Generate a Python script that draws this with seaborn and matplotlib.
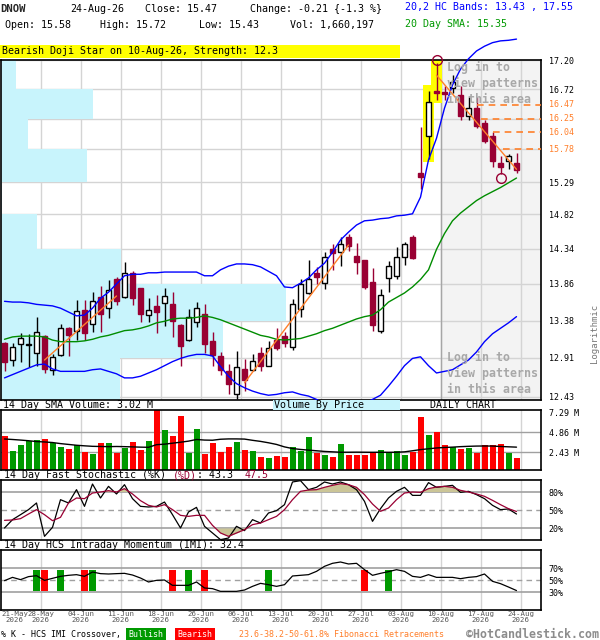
import matplotlib
matplotlib.use('Agg')
import matplotlib.pyplot as plt
from matplotlib.patches import Rectangle
from matplotlib.ticker import NullLocator
import numpy as np
import pandas as pd
import seaborn as sns

sns.set_style('white')
plt.rcParams['font.family'] = ['DejaVu Sans Mono']

# ---- data ----
ticker = 'DNOW'
last_date = '24-Aug-26'
week_labels = ['21-May', '28-May', '04-Jun', '11-Jun', '18-Jun', '26-Jun', '06-Jul',
               '13-Jul', '20-Jul', '27-Jul', '03-Aug', '10-Aug', '17-Aug', '24-Aug']

opens = [13.09, 12.88, 13.08, 13.07, 12.97, 13.18, 12.76, 12.94, 13.28, 13.25,
         13.51, 13.33, 13.69, 13.54, 13.93, 13.69, 14.01, 13.80, 13.45, 13.57,
         13.61, 13.59, 13.32, 13.13, 13.36, 13.46, 13.12, 12.93, 12.74, 12.47,
         12.77, 12.76, 12.97, 12.81, 13.13, 13.18, 13.04, 13.53, 13.74, 14.01,
         13.87, 14.34, 14.30, 14.50, 14.24, 14.18, 13.89, 13.24, 13.94, 13.97,
         14.22, 14.50, 15.42, 15.99, 16.69, 16.68, 16.74, 16.63, 16.29, 16.42,
         16.19, 15.99, 15.58, 15.60, 15.58]
highs = [13.10, 13.09, 13.22, 13.21, 13.43, 13.19, 12.96, 13.34, 13.30, 13.65,
         13.65, 13.75, 13.83, 13.91, 13.95, 14.15, 14.03, 13.81, 13.68, 13.71,
         13.81, 13.75, 13.33, 13.53, 13.62, 13.59, 13.23, 12.98, 12.83, 12.99,
         12.89, 12.96, 13.04, 13.12, 13.28, 13.23, 13.66, 13.92, 14.19, 14.09,
         14.29, 14.40, 14.50, 14.55, 14.42, 14.19, 14.07, 13.79, 14.17, 14.36,
         14.43, 14.53, 16.13, 16.69, 17.15, 16.77, 16.96, 16.77, 16.60, 16.60,
         16.24, 16.04, 15.68, 15.71, 15.72]
lows = [12.75, 12.80, 12.86, 12.79, 12.80, 12.72, 12.70, 12.93, 12.93, 13.13,
        13.13, 13.23, 13.23, 13.41, 13.58, 13.68, 13.58, 13.36, 13.36, 13.22,
        13.31, 13.17, 12.80, 13.12, 13.30, 12.97, 12.81, 12.69, 12.47, 12.41,
        12.50, 12.74, 12.74, 12.80, 13.01, 13.04, 13.00, 13.42, 13.72, 13.86,
        13.79, 14.05, 14.10, 14.31, 13.99, 13.79, 13.24, 13.22, 13.75, 13.93,
        14.11, 14.20, 15.19, 15.64, 16.55, 16.55, 16.66, 16.24, 16.24, 16.11,
        15.88, 15.52, 15.41, 15.49, 15.43]
closes = [12.86, 13.04, 13.15, 13.08, 13.23, 12.77, 12.92, 13.28, 13.19, 13.50,
          13.22, 13.64, 13.46, 13.78, 13.63, 14.01, 13.68, 13.46, 13.51, 13.49,
          13.70, 13.38, 13.06, 13.43, 13.54, 13.08, 12.94, 12.76, 12.58, 12.79,
          12.63, 12.87, 12.80, 13.03, 13.03, 13.09, 13.59, 13.86, 13.92, 13.95,
          14.23, 14.28, 14.40, 14.38, 14.16, 13.82, 13.32, 13.71, 14.10, 14.23,
          14.40, 14.21, 15.36, 16.51, 16.66, 16.65, 16.84, 16.29, 16.43, 16.14,
          15.91, 15.60, 15.52, 15.68, 15.47]

band_upper = [13.63, 13.62, 13.62, 13.61, 13.59, 13.58, 13.57, 13.54, 13.49, 13.44,
              13.45, 13.54, 13.67, 13.75, 13.86, 13.97, 13.99, 13.99, 14.01, 14.01,
              14.02, 14.02, 14.02, 14.02, 14.02, 13.97, 13.97, 14.05, 14.10, 14.13,
              14.13, 14.12, 14.09, 14.03, 13.97, 13.82, 13.81, 13.87, 13.94, 14.05,
              14.14, 14.29, 14.46, 14.57, 14.67, 14.73, 14.74, 14.76, 14.77, 14.80,
              14.81, 14.83, 15.07, 15.62, 15.95, 16.42, 16.79, 17.05, 17.22, 17.35,
              17.43, 17.49, 17.52, 17.53, 17.55]
band_lower = [12.66, 12.70, 12.74, 12.78, 12.82, 12.83, 12.77, 12.74, 12.74, 12.74,
              12.74, 12.76, 12.77, 12.74, 12.71, 12.66, 12.66, 12.68, 12.72, 12.76,
              12.81, 12.86, 12.90, 12.93, 12.95, 12.95, 12.93, 12.80, 12.68, 12.59,
              12.54, 12.50, 12.47, 12.45, 12.46, 12.48, 12.49, 12.46, 12.44, 12.40,
              12.35, 12.31, 12.29, 12.29, 12.31, 12.35, 12.40, 12.45, 12.56, 12.68,
              12.81, 12.90, 12.92, 12.81, 12.72, 12.74, 12.76, 12.82, 12.88, 12.98,
              13.11, 13.21, 13.28, 13.35, 13.43]
sma20 = [13.14, 13.17, 13.18, 13.18, 13.18, 13.17, 13.13, 13.11, 13.11, 13.11,
         13.12, 13.14, 13.17, 13.19, 13.22, 13.25, 13.26, 13.28, 13.31, 13.35,
         13.37, 13.40, 13.41, 13.41, 13.42, 13.44, 13.42, 13.39, 13.35, 13.31,
         13.27, 13.23, 13.19, 13.17, 13.14, 13.13, 13.14, 13.15, 13.18, 13.21,
         13.25, 13.28, 13.32, 13.36, 13.40, 13.43, 13.45, 13.52, 13.62, 13.68,
         13.74, 13.82, 13.92, 14.05, 14.33, 14.55, 14.73, 14.84, 14.93, 15.02,
         15.09, 15.15, 15.21, 15.28, 15.35]

# volume in millions of shares
volumes = [4.37, 2.59, 3.28, 3.81, 3.89, 4.05, 3.52, 3.04, 2.79, 3.28,
           2.47, 2.23, 3.52, 3.52, 2.31, 2.96, 3.65, 2.67, 3.77, 7.53,
           5.10, 4.37, 6.84, 2.31, 5.22, 2.19, 3.52, 2.43, 3.04, 3.65,
           2.67, 2.55, 1.82, 1.70, 1.94, 1.82, 3.04, 2.55, 4.25, 2.31,
           2.07, 1.82, 3.40, 2.07, 2.07, 2.07, 2.31, 2.67, 2.31, 2.55,
           2.07, 2.43, 6.68, 4.50, 4.86, 3.28, 3.04, 2.79, 2.92, 2.31,
           3.28, 3.28, 3.40, 2.31, 1.660197]
volume_sma = [4.01, 3.95, 3.88, 3.80, 3.70, 3.65, 3.58, 3.45, 3.35, 3.25,
              3.18, 3.12, 3.10, 3.08, 3.10, 3.08, 3.05, 3.02, 3.00, 3.32,
              3.38, 3.50, 3.62, 3.75, 3.95, 3.88, 3.86, 3.98, 4.02, 4.02,
              4.00, 3.85, 3.72, 3.55, 3.35, 3.05, 2.85, 2.74, 2.66, 2.58,
              2.50, 2.45, 2.40, 2.40, 2.41, 2.40, 2.39, 2.40, 2.39, 2.40,
              2.45, 2.58, 2.72, 2.82, 2.92, 2.98, 3.02, 3.08, 3.12, 3.15,
              3.16, 3.15, 3.10, 3.06, 3.02]

stoch_k = [20.0, 33.9, 42.2, 50.6, 61.7, 6.1, 21.1, 67.2, 61.7, 83.9,
           56.1, 93.3, 70.0, 89.4, 76.7, 92.2, 68.9, 56.1, 55.0, 56.1,
           63.3, 42.2, 20.0, 46.7, 54.4, 22.8, 11.7, 0.6, 3.3, 22.8,
           15.6, 33.9, 28.3, 45.0, 48.9, 58.9, 96.7, 98.9, 83.9, 87.8,
           96.7, 93.3, 96.7, 92.2, 83.9, 64.4, 31.1, 52.2, 70.0, 81.1,
           87.8, 74.4, 74.4, 95.6, 87.8, 89.4, 91.1, 79.4, 81.1, 75.6,
           68.9, 57.8, 50.6, 51.7, 43.3]
stoch_d = [32.8, 33.3, 35.6, 43.3, 50.6, 42.2, 32.2, 37.8, 61.7, 70.0,
           68.9, 78.3, 80.0, 82.2, 80.0, 85.6, 76.7, 65.6, 57.8, 55.0,
           58.9, 50.6, 41.1, 39.4, 41.1, 41.1, 24.4, 11.7, 6.1, 11.7,
           17.2, 25.6, 28.3, 33.9, 39.4, 50.6, 67.2, 81.1, 83.3, 83.9,
           87.8, 91.1, 93.9, 92.2, 87.8, 75.6, 60.0, 47.8, 53.3, 67.2,
           78.3, 80.0, 79.4, 85.6, 88.3, 89.4, 87.8, 82.8, 80.0, 76.7,
           72.8, 66.1, 58.9, 52.2, 47.5]
imi = [48.9, 54.4, 50.6, 55.6, 57.2, 49.4, 52.8, 56.1, 57.8, 58.9,
       56.1, 63.3, 60.6, 60.0, 60.6, 61.1, 58.3, 53.3, 46.7, 49.4,
       50.0, 41.1, 41.1, 41.1, 46.7, 36.7, 35.6, 31.1, 31.1, 31.1,
       33.3, 39.4, 44.4, 42.2, 39.4, 42.2, 56.7, 57.8, 58.9, 64.4,
       72.8, 77.8, 80.0, 76.7, 77.8, 67.2, 57.8, 61.1, 63.9, 67.2,
       64.4, 56.1, 54.4, 58.9, 54.4, 54.4, 54.4, 52.2, 54.4, 55.6,
       60.0, 47.8, 43.9, 38.3, 32.4]
imi_bullish = [4, 7, 11, 23, 33, 48]
imi_bearish = [5, 10, 21, 25, 45]

# volume by price: bins between the price grid levels (top to bottom), millions
price_grid = [17.20, 16.72, 16.25, 15.78, 15.29, 14.82, 14.34, 13.86, 13.38, 12.91, 12.43]
vbp = [1.5, 9.2, 2.7, 8.6, 0.1, 3.6, 12.0, 28.5, 22.2, 11.9]

fib_levels = [16.47, 16.25, 16.04, 15.78]
fib_start = [59, 59.5, 61, 62.3]
trend_x0 = [5, 30, 54]
trend_y0 = [12.88, 12.60, 16.95]
trend_x1 = [14, 43, 64]
trend_y1 = [13.70, 14.39, 15.48]

pattern_text = 'Bearish Doji Star on 10-Aug-26, Strength: 12.3'
pattern_days = [53, 54]

# ---- styling ----
RED_C = '#990033'
VRED = '#ff0000'
VGREEN = '#009900'
BLUE = '#0000ff'
GREEN = '#008c00'
ORANGE = '#ff7f2a'
GRID = '#d4d4d4'
LEVEL = '#a0a0a0'

W, H = 600, 640
fig = plt.figure(figsize=(W / 100, H / 100), dpi=100)


def fx(px):
    return px / W


def fy(py):
    return 1 - py / H


def box(top, bottom, left=1, right=541):
    return [left / W, 1 - bottom / H, (right - left) / W, (bottom - top) / H]


ax_p = fig.add_axes(box(60, 400))
ax_v = fig.add_axes(box(410, 470))
ax_s = fig.add_axes(box(480, 540))
ax_m = fig.add_axes(box(550, 610))

n = len(closes)
idx = np.arange(n)
x_lo, x_hi = -0.4375, 67.0625
grid_x = np.arange(4.5, n + 0.5, 5)
o, h, l, c = map(np.array, (opens, highs, lows, closes))
up = c >= o

for ax in (ax_p, ax_v, ax_s, ax_m):
    ax.set_xlim(x_lo, x_hi)
    for gx in grid_x:
        ax.axvline(gx, color=GRID, lw=1, zorder=0.5)
    for s in ax.spines.values():
        s.set_color('black')
        s.set_linewidth(1.2)
    ax.yaxis.tick_right()
    ax.tick_params(axis='y', length=0, pad=5.5, labelsize=6, labelcolor='black')
    ax.set_xticks([])

# ---- price panel ----
y_lo, y_hi = 12.393, 17.20
ax_p.set_yscale('log')
ax_p.axvspan(54.5, x_hi, color='#f3f3f3', zorder=0.3, lw=0)
for p in price_grid:
    ax_p.axhline(p, color=GRID, lw=1, zorder=0.5)
ax_p.axvline(54.5, color='#a6a6a6', lw=1, zorder=0.6)

edges = list(price_grid)
edges[-1] = min(edges[-1], y_lo)
bin_hi = np.array(edges[:-1])
bin_lo = np.array(edges[1:])
ax_p.barh(bin_lo, np.array(vbp) / 54.0, height=bin_hi - bin_lo, left=0, align='edge',
          color='#c8f4fc', lw=0, zorder=1, transform=ax_p.get_yaxis_transform())

# pattern highlight
ph = np.array([h[i] for i in pattern_days])
pl = np.array([l[i] for i in pattern_days])
ax_p.bar(pattern_days, ph * 1.006 - pl * 0.997, bottom=pl * 0.997, width=1.4,
         color='#ffff00', lw=0, zorder=2)

wick_col = np.where(up, 'black', RED_C)
ax_p.vlines(idx, l, h, colors=wick_col, lw=1, zorder=3)
body_lo = np.minimum(o, c)
body_h = np.maximum(np.abs(c - o), 0.004)
ax_p.bar(idx, body_h, bottom=body_lo, width=0.72,
         color=np.where(up, 'white', RED_C), edgecolor=wick_col, lw=1, zorder=4)

sns.lineplot(x=idx, y=band_upper, ax=ax_p, color=BLUE, lw=1, zorder=5, clip_on=False)
sns.lineplot(x=idx, y=band_lower, ax=ax_p, color=BLUE, lw=1, zorder=5)
sns.lineplot(x=idx, y=sma20, ax=ax_p, color=GREEN, lw=1, zorder=5)

for x0, y0, x1, y1 in zip(trend_x0, trend_y0, trend_x1, trend_y1):
    ax_p.plot([x0, x1], [y0, y1], color=ORANGE, lw=1, zorder=5.5)
for lvl, st in zip(fib_levels, fib_start):
    ax_p.plot([st, x_hi], [lvl, lvl], color=ORANGE, lw=1.2, ls=(0, (4, 3)), zorder=5)
    ax_p.text(1 + 8 / 540, lvl, f'{lvl:.2f}', transform=ax_p.get_yaxis_transform(),
              color=ORANGE, fontsize=6, va='center', ha='left')

ax_p.plot(54, h[54] * 1.003, 'o', ms=7, mfc='none', mec=RED_C, mew=1, clip_on=False, zorder=6)
ax_p.plot(62, l[62] * 0.996, 'o', ms=7, mfc='none', mec=RED_C, mew=1, zorder=6)

login = 'Log in to\nview patterns\nin this area'
ax_p.text(446 / 540, 0.997, login, transform=ax_p.transAxes, ha='left', va='top',
          fontsize=8.4, fontweight='bold', color='#a8a8a8', linespacing=1.28, zorder=7)
ax_p.text(446 / 540, 0.012, login, transform=ax_p.transAxes, ha='left', va='bottom',
          fontsize=8.4, fontweight='bold', color='#a8a8a8', linespacing=1.28, zorder=7)

ax_p.set_ylim(y_lo, y_hi)
ax_p.set_yticks(price_grid, labels=['' if p in fib_levels else f'{p:.2f}' for p in price_grid])
ax_p.yaxis.set_minor_locator(NullLocator())
ax_p.set_xlim(x_lo, x_hi)

# ---- volume panel ----
ax_v.set_ylim(0.243, 7.533)
for lv in (2.43, 4.86):
    ax_v.axhline(lv, color=LEVEL, lw=1, zorder=0.6)
ax_v.bar(idx, volumes, width=0.75, color=np.where(up, VGREEN, VRED), lw=0, zorder=2)
sns.lineplot(x=idx, y=volume_sma, ax=ax_v, color='black', lw=1, zorder=3)
ax_v.set_yticks([2.43, 4.86, 7.29], labels=['2.43 M', '4.86 M', '7.29 M'])
ax_v.set_ylim(0.243, 7.533)

# ---- stochastic panel ----
ax_s.set_ylim(0, 100)
ax_s.axhline(80, color=LEVEL, lw=1.2, zorder=0.6)
ax_s.axhline(20, color=LEVEL, lw=1.2, zorder=0.6)
ax_s.axhline(50, color=LEVEL, lw=1, ls=(0, (4, 3)), zorder=0.6)
d = np.array(stoch_d)
ax_s.fill_between(idx, 80, d, where=d >= 80, interpolate=True, color='#cbc597', lw=0, zorder=1)
ax_s.fill_between(idx, 20, d, where=d <= 20, interpolate=True, color='#cbc597', lw=0, zorder=1)
sns.lineplot(x=idx, y=stoch_k, ax=ax_s, color='black', lw=0.9, zorder=3)
sns.lineplot(x=idx, y=stoch_d, ax=ax_s, color=RED_C, lw=0.9, zorder=3)
ax_s.set_yticks([20, 50, 80], labels=['20%', '50%', '80%'])
ax_s.set_ylim(0, 100)

# ---- IMI panel ----
ax_m.set_ylim(0, 100)
ax_m.axhline(70, color=LEVEL, lw=1.2, zorder=0.6)
ax_m.axhline(30, color=LEVEL, lw=1.2, zorder=0.6)
ax_m.axhline(50, color=LEVEL, lw=1, ls=(0, (4, 3)), zorder=0.6)
ax_m.bar(imi_bullish, 35, bottom=32, width=0.76, color=VGREEN, lw=0, zorder=2)
ax_m.bar(imi_bearish, 35, bottom=32, width=0.76, color=VRED, lw=0, zorder=2)
sns.lineplot(x=idx, y=imi, ax=ax_m, color='black', lw=0.9, zorder=3)
ax_m.set_yticks([30, 50, 70], labels=['30%', '50%', '70%'])
ax_m.set_ylim(0, 100)
ax_m.set_xlim(x_lo, x_hi)
ax_m.set_xticks(grid_x, labels=[f'{w}\n2026' for w in week_labels[1:]])
ax_m.tick_params(axis='x', length=0, pad=0.5, labelsize=5.3, labelcolor='#555555')
for t in ax_m.get_xticklabels():
    t.set_linespacing(1.05)
ax_m.text(0.0, -0.012, f'{week_labels[0]}\n2026', transform=ax_m.transAxes,
          ha='left', va='top', fontsize=5.3, color='#555555', linespacing=1.05,
          multialignment='center')

for ax in (ax_p, ax_v, ax_s, ax_m):
    ax.set_xlabel('')
    ax.set_ylabel('')

# ---- texts around the panels ----
FS = 7.2


def char_w(fs):
    return 0.6021 * fs * 100 / 72


def mono(x, y, parts, fs=FS, **kw):
    for txt, col in parts:
        fig.text(fx(x), fy(y), txt, color=col, fontsize=fs, ha='left', va='center', **kw)
        x += len(txt) * char_w(fs)


chg = closes[-1] - closes[-2]
pct = chg / closes[-2] * 100
fig.text(fx(0), fy(9), ticker, fontsize=7.6, fontweight='bold', va='center')
mono(70, 9, [(last_date, 'black')])
mono(145, 9, [(f'Close: {closes[-1]:.2f}', 'black')])
mono(250, 9, [(f'Change: {chg:.2f} {{{pct:.1f} %}}', 'black')])
mono(5, 25, [(f'Open: {opens[-1]:.2f}', 'black')])
mono(100, 25, [(f'High: {highs[-1]:.2f}', 'black')])
mono(199, 25, [(f'Low: {lows[-1]:.2f}', 'black')])
mono(290, 25, [(f'Vol: {int(round(volumes[-1] * 1e6)):,}', 'black')])
mono(405, 7, [(f'20,2 HC Bands: {band_lower[-1]:.2f} , {band_upper[-1]:.2f}', BLUE)])
mono(405, 24, [(f'20 Day SMA: {sma20[-1]:.2f}', VGREEN)])

fig.add_artist(Rectangle((fx(0), fy(58)), fx(400), 13 / H, transform=fig.transFigure,
                         facecolor='#ffff00', edgecolor='none'))
mono(2, 51.5, [(pattern_text, 'black')])

mono(3, 405, [(f'14 Day SMA Volume: {volume_sma[-1]:.2f} M', 'black')])
fig.add_artist(Rectangle((fx(273), fy(410)), fx(127), 10 / H, transform=fig.transFigure,
                         facecolor='#c8f4fc', edgecolor='none'))
mono(274, 405, [('Volume By Price', 'black')])
mono(430, 405, [('DAILY CHART', 'black')])

mono(4, 475, [('14 Day Fast Stochastic (%K) ', 'black'), ('(%D)', RED_C),
              (f': {stoch_k[-1]:.1f}  ', 'black'), (f'{stoch_d[-1]:.1f}', RED_C)])
mono(4, 545, [(f'14 Day HCS Intraday Momentum (IMI): {imi[-1]:.1f}', 'black')])

fig.text(fx(594), fy(333), 'Logarithmic', rotation=90, fontsize=6.5, color='#777777',
         ha='center', va='center')

mono(1, 634.5, [('% K - HCS IMI Crossover,', 'black')], fs=6)
fig.text(fx(128), fy(634.5), 'Bullish', fontsize=6, color='white', ha='left', va='center',
         bbox=dict(boxstyle='square,pad=0.3', fc=VGREEN, ec='none'))
fig.text(fx(177), fy(634.5), 'Bearish', fontsize=6, color='white', ha='left', va='center',
         bbox=dict(boxstyle='square,pad=0.3', fc=VRED, ec='none'))
mono(239, 634.5, [('23.6-38.2-50-61.8% Fibonacci Retracements', ORANGE)], fs=6)
fig.text(fx(599), fy(634.5), '\u00a9HotCandlestick.com', fontsize=8.4, fontweight='bold',
         color='#8c8c8c', ha='right', va='center')

fig.savefig('out.png', dpi=100)
